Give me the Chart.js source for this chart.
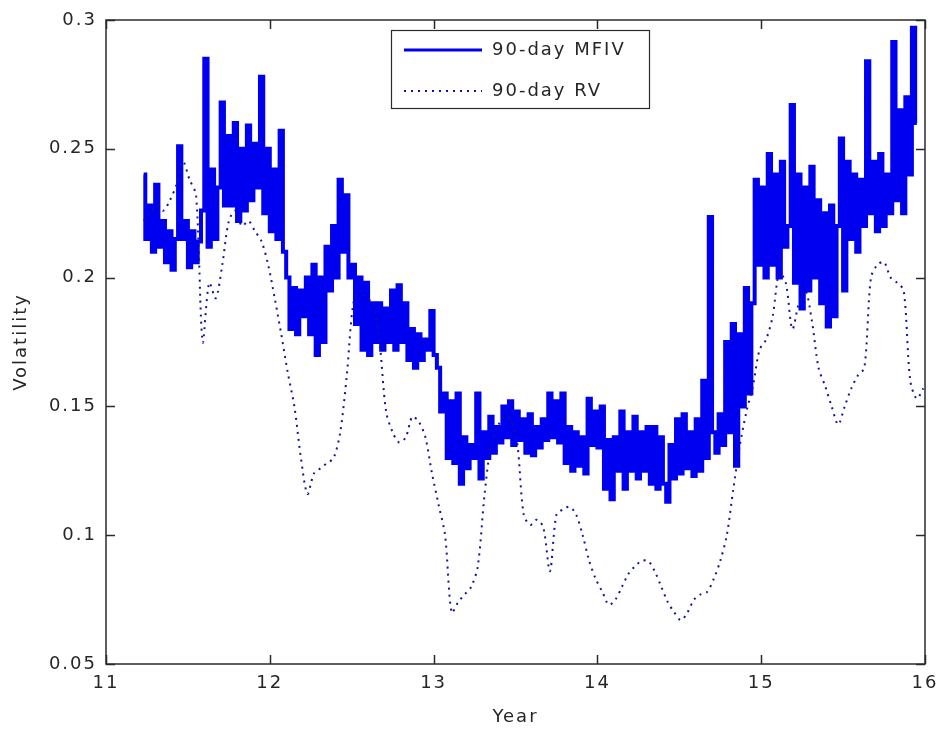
<!DOCTYPE html>
<html>
<head>
<meta charset="utf-8">
<script src="https://cdn.jsdelivr.net/npm/chart.js@4.4.0/dist/chart.umd.min.js"></script>
<style>
  html, body { margin: 0; padding: 0; background: #fff; }
  #wrap { width: 939px; height: 733px; }
</style>
</head>
<body>
<div id="wrap"><canvas id="volChart" width="939" height="733"></canvas></div>
<script>
// sampling grid (year fractions)
const mfivStart = 11.23;
const mfivStep = 0.02;
const rvStart = 11.23;
const rvStep = 0.04;

const xTicks = [11, 12, 13, 14, 15, 16];
const yTicks = [0.05, 0.1, 0.15, 0.2, 0.25, 0.3];

// 90-day model-free implied volatility
const mfivValues = [
  0.240, 0.215, 0.228, 0.210, 0.236, 0.212,
  0.222, 0.206, 0.218, 0.203, 0.215,
  0.251, 0.215,
  0.222, 0.204, 0.218, 0.206, 0.214,
  0.226, 0.285, 0.212,
  0.242, 0.215, 0.235,
  0.268, 0.228,
  0.255, 0.228, 0.260, 0.222, 0.250,
  0.226, 0.259, 0.230, 0.252,
  0.235, 0.278, 0.225,
  0.250, 0.218, 0.242, 0.215,
  0.257, 0.210,
  0.200, 0.180, 0.196, 0.178, 0.195,
  0.185, 0.200, 0.178, 0.205,
  0.170, 0.200, 0.175, 0.212,
  0.195, 0.220, 0.200, 0.238,
  0.210, 0.232, 0.200,
  0.205, 0.182, 0.200, 0.172,
  0.198, 0.170, 0.190, 0.175, 0.190,
  0.172, 0.188, 0.175, 0.195, 0.172, 0.197,
  0.175, 0.190, 0.168, 0.180, 0.165, 0.178,
  0.168, 0.176, 0.172,
  0.187, 0.170,
  0.165, 0.148, 0.155,
  0.130, 0.152, 0.128, 0.155, 0.120,
  0.138, 0.126, 0.135, 0.130,
  0.155, 0.122,
  0.140, 0.130, 0.146, 0.132, 0.142,
  0.136, 0.150, 0.138, 0.152, 0.135, 0.148, 0.137, 0.145,
  0.132, 0.147, 0.131, 0.142, 0.134, 0.145,
  0.137, 0.155, 0.138, 0.152, 0.136, 0.155,
  0.128, 0.142, 0.125, 0.140, 0.127, 0.138, 0.124,
  0.153, 0.135, 0.148, 0.134, 0.150,
  0.118, 0.137, 0.114, 0.138,
  0.125, 0.148, 0.118, 0.140, 0.125, 0.146,
  0.122, 0.140, 0.125, 0.142,
  0.120, 0.142, 0.118, 0.138, 0.120, 0.113, 0.135, 0.122,
  0.145, 0.124, 0.147, 0.126, 0.140, 0.123, 0.145, 0.125,
  0.160, 0.130, 0.2235, 0.140,
  0.132, 0.147, 0.135, 0.175,
  0.140, 0.182, 0.127, 0.178,
  0.150, 0.196, 0.155, 0.190,
  0.238, 0.205, 0.235,
  0.200, 0.248, 0.205, 0.240, 0.200, 0.245, 0.212,
  0.220, 0.267,
  0.198, 0.240, 0.188, 0.235, 0.195,
  0.243, 0.200,
  0.230, 0.190, 0.225, 0.181, 0.228, 0.185, 0.220,
  0.254, 0.195, 0.245,
  0.215, 0.240, 0.210, 0.238, 0.220, 0.284, 0.225,
  0.245, 0.218, 0.248, 0.220, 0.240, 0.225,
  0.2915, 0.230,
  0.265, 0.225, 0.270,
  0.240, 0.297, 0.260
];

// 90-day realized volatility
const rvValues = [
  0.222, 0.225, 0.228, 0.226, 0.230, 0.236, 0.245, 0.238, 0.232, 0.175,
  0.198, 0.192, 0.205, 0.222, 0.226, 0.220, 0.222, 0.218, 0.214, 0.205,
  0.192, 0.178, 0.163, 0.150, 0.130, 0.116, 0.124, 0.126, 0.128, 0.130,
  0.140, 0.162, 0.190, 0.195, 0.192, 0.190, 0.175, 0.148, 0.140, 0.136,
  0.138, 0.146, 0.144, 0.138, 0.124, 0.112, 0.100, 0.070, 0.074, 0.077,
  0.080, 0.088, 0.115, 0.135, 0.142, 0.146, 0.145, 0.136, 0.108, 0.104,
  0.106, 0.103, 0.086, 0.108, 0.110, 0.111, 0.108, 0.100, 0.090, 0.083,
  0.078, 0.073, 0.075, 0.080, 0.085, 0.088, 0.090, 0.090, 0.086, 0.080,
  0.074, 0.070, 0.067, 0.070, 0.075, 0.077, 0.078, 0.083, 0.090, 0.100,
  0.118, 0.135, 0.148, 0.158, 0.172, 0.176, 0.185, 0.202, 0.198, 0.180,
  0.190, 0.195, 0.183, 0.165, 0.158, 0.150, 0.143, 0.150, 0.157, 0.162,
  0.165, 0.200, 0.205, 0.206, 0.200, 0.198, 0.195, 0.160, 0.153, 0.157
];

const mfivData = mfivValues.map((v, i) => ({ x: mfivStart + i * mfivStep, y: v }));
const rvData = rvValues.map((v, i) => ({ x: rvStart + i * rvStep, y: v }));

const textColor = '#262626';
const frameColor = '#2b2b2b';
const fontFamily = '"DejaVu Sans", sans-serif';

// box + inward ticks on all four sides, legend drawn by hand
const framePlugin = {
  id: 'frame',
  beforeDraw(chart) {
    chart.ctx.letterSpacing = '2px';
  },
  afterDatasetsDraw(chart) {
    const { ctx, chartArea: a, scales } = chart;
    const len = 9;
    ctx.save();
    ctx.strokeStyle = frameColor;
    ctx.lineWidth = 1.5;
    ctx.beginPath();
    xTicks.forEach(t => {
      const px = Math.round(scales.x.getPixelForValue(t)) + 0.5;
      ctx.moveTo(px, a.bottom); ctx.lineTo(px, a.bottom - len);
      ctx.moveTo(px, a.top); ctx.lineTo(px, a.top + len);
    });
    yTicks.forEach(t => {
      const py = Math.round(scales.y.getPixelForValue(t)) + 0.5;
      ctx.moveTo(a.left, py); ctx.lineTo(a.left + len, py);
      ctx.moveTo(a.right, py); ctx.lineTo(a.right - len, py);
    });
    ctx.stroke();
    ctx.strokeRect(a.left, a.top, a.right - a.left, a.bottom - a.top);
    ctx.restore();
  },
  afterDraw(chart) {
    const { ctx } = chart;
    const box = { x: 391, y: 30, w: 258, h: 78 };
    ctx.save();
    ctx.fillStyle = '#fff';
    ctx.fillRect(box.x, box.y, box.w, box.h);
    ctx.strokeStyle = frameColor;
    ctx.lineWidth = 1.2;
    ctx.strokeRect(box.x + 0.5, box.y + 0.5, box.w, box.h);
    const rows = [50, 91];
    chart.data.datasets.slice().sort((p, q) => p.legendRank - q.legendRank).forEach((ds, k) => {
      const y = rows[k];
      ctx.beginPath();
      ctx.strokeStyle = ds.borderColor;
      ctx.lineWidth = ds.legendWidth;
      ctx.setLineDash(ds.borderDash || []);
      ctx.moveTo(404, y); ctx.lineTo(482, y);
      ctx.stroke();
      ctx.setLineDash([]);
      ctx.fillStyle = textColor;
      ctx.font = '18px ' + fontFamily;
      ctx.textBaseline = 'middle';
      ctx.textAlign = 'left';
      ctx.fillText(ds.label, 492, y);
    });
    ctx.restore();
  }
};

new Chart(document.getElementById('volChart'), {
  type: 'line',
  data: {
    datasets: [
      {
        label: '90-day MFIV',
        data: mfivData,
        borderColor: '#0000f0',
        borderWidth: 4,
        stepped: 'middle',
        pointRadius: 0,
        order: 2,
        legendRank: 0,
        legendWidth: 3
      },
      {
        label: '90-day RV',
        data: rvData,
        borderColor: '#14149a',
        borderWidth: 2,
        borderDash: [2, 5],
        pointRadius: 0,
        tension: 0.3,
        order: 1,
        legendRank: 1,
        legendWidth: 2
      }
    ]
  },
  options: {
    responsive: false,
    animation: false,
    layout: { padding: { left: 0, right: 14, top: 20, bottom: 0 } },
    scales: {
      x: {
        type: 'linear',
        min: 11,
        max: 16,
        afterBuildTicks: s => { s.ticks = xTicks.map(v => ({ value: v })); },
        afterFit: s => { s.height = 69; s.paddingLeft = 0; s.paddingRight = 0; },
        grid: { display: false, drawTicks: false },
        border: { display: false },
        ticks: {
          color: textColor,
          padding: 9,
          font: { size: 18, family: fontFamily },
          callback: v => String(v)
        },
        title: {
          display: true,
          text: 'Year',
          color: textColor,
          padding: { top: 0, bottom: 5 },
          font: { size: 18, family: fontFamily }
        }
      },
      y: {
        type: 'linear',
        min: 0.05,
        max: 0.3,
        afterBuildTicks: s => { s.ticks = yTicks.map(v => ({ value: v })); },
        afterFit: s => { s.width = 106; s.paddingTop = 0; s.paddingBottom = 0; },
        grid: { display: false, drawTicks: false },
        border: { display: false },
        ticks: {
          color: textColor,
          padding: 9,
          font: { size: 18, family: fontFamily },
          callback: v => String(Number(v.toFixed(2)))
        },
        title: {
          display: true,
          text: 'Volatility',
          color: textColor,
          padding: { top: 11, bottom: 0 },
          font: { size: 18, family: fontFamily }
        }
      }
    },
    plugins: {
      legend: { display: false },
      tooltip: { enabled: false }
    }
  },
  plugins: [framePlugin]
});
</script>
</body>
</html>
